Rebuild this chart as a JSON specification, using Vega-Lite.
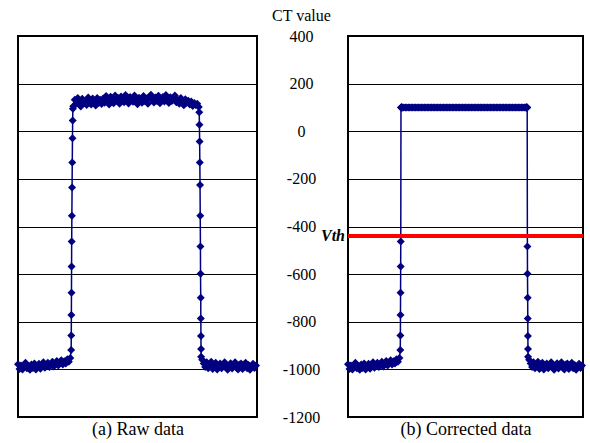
{
  "$schema": "https://vega.github.io/schema/vega-lite/v6.json",
  "padding": {"left": 13, "top": 6, "right": 4, "bottom": 4},
  "bounds": "flush",
  "spacing": 91,
  "background": "white",
  "datasets": {
    "d": [
      {"x":0,"raw":-978,"cor":-978},{"x":1.5,"raw":-998,"cor":-998},{"x":3,"raw":-984,"cor":-984},{"x":4.5,"raw":-1000,"cor":-1000},
      {"x":6,"raw":-990,"cor":-990},{"x":7.5,"raw":-972,"cor":-972},{"x":9,"raw":-995,"cor":-995},{"x":10.5,"raw":-986,"cor":-986},
      {"x":12,"raw":-1002,"cor":-1002},{"x":13.5,"raw":-980,"cor":-980},{"x":15,"raw":-994,"cor":-994},{"x":16.5,"raw":-975,"cor":-975},
      {"x":18,"raw":-1000,"cor":-1000},{"x":19.5,"raw":-988,"cor":-988},{"x":21,"raw":-976,"cor":-976},{"x":22.5,"raw":-997,"cor":-997},
      {"x":24,"raw":-983,"cor":-983},{"x":25.5,"raw":-970,"cor":-970},{"x":27,"raw":-993,"cor":-993},{"x":28.5,"raw":-985,"cor":-985},
      {"x":30,"raw":-972,"cor":-972},{"x":31.5,"raw":-990,"cor":-990},{"x":33,"raw":-978,"cor":-978},{"x":34.5,"raw":-968,"cor":-968},
      {"x":36,"raw":-988,"cor":-988},{"x":37.5,"raw":-975,"cor":-975},{"x":39,"raw":-965,"cor":-965},{"x":40.5,"raw":-984,"cor":-984},
      {"x":42,"raw":-970,"cor":-970},{"x":43.5,"raw":-962,"cor":-962},{"x":45,"raw":-980,"cor":-980},{"x":46.5,"raw":-966,"cor":-966},
      {"x":48,"raw":-975,"cor":-975},{"x":49.5,"raw":-958,"cor":-958},{"x":51,"raw":-968,"cor":-968},{"x":52.5,"raw":-952,"cor":-952},
      {"x":53.4,"raw":-919,"cor":-919},{"x":53.5,"raw":-858,"cor":-858},{"x":53.6,"raw":-772,"cor":-772},{"x":53.7,"raw":-678,"cor":-678},
      {"x":53.8,"raw":-568,"cor":-568},{"x":53.9,"raw":-463,"cor":-463},{"x":54.1,"raw":-355,"cor":100},{"x":54.3,"raw":-236,"cor":100},
      {"x":54.5,"raw":-131,"cor":100},{"x":54.7,"raw":-29,"cor":100},{"x":54.9,"raw":45,"cor":100},{"x":55.1,"raw":94,"cor":100},
      {"x":55.5,"raw":105,"cor":100},{"x":57,"raw":132,"cor":100},{"x":58.5,"raw":115,"cor":100},{"x":60,"raw":140,"cor":100},
      {"x":61.5,"raw":120,"cor":100},{"x":63,"raw":104,"cor":100},{"x":64.5,"raw":136,"cor":100},{"x":66,"raw":118,"cor":100},
      {"x":67.5,"raw":128,"cor":100},{"x":69,"raw":110,"cor":100},{"x":70.5,"raw":142,"cor":100},{"x":72,"raw":122,"cor":100},
      {"x":73.5,"raw":112,"cor":100},{"x":75,"raw":138,"cor":100},{"x":76.5,"raw":125,"cor":100},{"x":78,"raw":108,"cor":100},
      {"x":79.5,"raw":140,"cor":100},{"x":81,"raw":119,"cor":100},{"x":82.5,"raw":132,"cor":100},{"x":84,"raw":114,"cor":100},
      {"x":85.5,"raw":138,"cor":100},{"x":87,"raw":120,"cor":100},{"x":88.5,"raw":148,"cor":100},{"x":90,"raw":126,"cor":100},
      {"x":91.5,"raw":112,"cor":100},{"x":93,"raw":145,"cor":100},{"x":94.5,"raw":132,"cor":100},{"x":96,"raw":118,"cor":100},
      {"x":97.5,"raw":150,"cor":100},{"x":99,"raw":128,"cor":100},{"x":100.5,"raw":140,"cor":100},{"x":102,"raw":115,"cor":100},
      {"x":103.5,"raw":146,"cor":100},{"x":105,"raw":135,"cor":100},{"x":106.5,"raw":122,"cor":100},{"x":108,"raw":152,"cor":100},
      {"x":109.5,"raw":130,"cor":100},{"x":111,"raw":117,"cor":100},{"x":112.5,"raw":144,"cor":100},{"x":114,"raw":137,"cor":100},
      {"x":115.5,"raw":124,"cor":100},{"x":117,"raw":150,"cor":100},{"x":118.5,"raw":128,"cor":100},{"x":120,"raw":113,"cor":100},
      {"x":121.5,"raw":141,"cor":100},{"x":123,"raw":133,"cor":100},{"x":124.5,"raw":120,"cor":100},{"x":126,"raw":148,"cor":100},
      {"x":127.5,"raw":126,"cor":100},{"x":129,"raw":138,"cor":100},{"x":130.5,"raw":116,"cor":100},{"x":132,"raw":145,"cor":100},
      {"x":133.5,"raw":153,"cor":100},{"x":135,"raw":130,"cor":100},{"x":136.5,"raw":121,"cor":100},{"x":138,"raw":142,"cor":100},
      {"x":139.5,"raw":127,"cor":100},{"x":141,"raw":149,"cor":100},{"x":142.5,"raw":118,"cor":100},{"x":144,"raw":136,"cor":100},
      {"x":145.5,"raw":144,"cor":100},{"x":147,"raw":125,"cor":100},{"x":148.5,"raw":152,"cor":100},{"x":150,"raw":131,"cor":100},
      {"x":151.5,"raw":119,"cor":100},{"x":153,"raw":143,"cor":100},{"x":154.5,"raw":127,"cor":100},{"x":156,"raw":136,"cor":100},
      {"x":157.5,"raw":150,"cor":100},{"x":159,"raw":122,"cor":100},{"x":160.5,"raw":131,"cor":100},{"x":162,"raw":115,"cor":100},
      {"x":163.5,"raw":140,"cor":100},{"x":165,"raw":124,"cor":100},{"x":166.5,"raw":109,"cor":100},{"x":168,"raw":134,"cor":100},
      {"x":169.5,"raw":120,"cor":100},{"x":171,"raw":128,"cor":100},{"x":172.5,"raw":112,"cor":100},{"x":174,"raw":125,"cor":100},
      {"x":175.5,"raw":106,"cor":100},{"x":177,"raw":119,"cor":100},{"x":178.5,"raw":110,"cor":100},{"x":180,"raw":116,"cor":100},
      {"x":181.5,"raw":102,"cor":100},
      {"x":182,"raw":80,"cor":100},{"x":182.2,"raw":27,"cor":100},{"x":182.4,"raw":-43,"cor":100},{"x":182.6,"raw":-131,"cor":100},
      {"x":182.8,"raw":-226,"cor":100},{"x":183,"raw":-355,"cor":100},{"x":183.2,"raw":-484,"cor":-484},{"x":183.3,"raw":-598,"cor":-598},
      {"x":183.5,"raw":-699,"cor":-699},{"x":183.6,"raw":-786,"cor":-786},{"x":183.7,"raw":-860,"cor":-860},{"x":183.8,"raw":-914,"cor":-914},
      {"x":183.9,"raw":-947,"cor":-947},
      {"x":185,"raw":-960,"cor":-960},{"x":186.5,"raw":-975,"cor":-975},{"x":188,"raw":-990,"cor":-990},{"x":189.5,"raw":-970,"cor":-970},
      {"x":191,"raw":-995,"cor":-995},{"x":192.5,"raw":-982,"cor":-982},{"x":194,"raw":-968,"cor":-968},{"x":195.5,"raw":-998,"cor":-998},
      {"x":197,"raw":-985,"cor":-985},{"x":198.5,"raw":-972,"cor":-972},{"x":200,"raw":-1000,"cor":-1000},{"x":201.5,"raw":-988,"cor":-988},
      {"x":203,"raw":-975,"cor":-975},{"x":204.5,"raw":-995,"cor":-995},{"x":206,"raw":-980,"cor":-980},{"x":207.5,"raw":-970,"cor":-970},
      {"x":209,"raw":-992,"cor":-992},{"x":210.5,"raw":-1002,"cor":-1002},{"x":212,"raw":-984,"cor":-984},{"x":213.5,"raw":-974,"cor":-974},
      {"x":215,"raw":-996,"cor":-996},{"x":216.5,"raw":-987,"cor":-987},{"x":218,"raw":-970,"cor":-970},{"x":219.5,"raw":-993,"cor":-993},
      {"x":221,"raw":-1000,"cor":-1000},{"x":222.5,"raw":-980,"cor":-980},{"x":224,"raw":-975,"cor":-975},{"x":225.5,"raw":-998,"cor":-998},
      {"x":227,"raw":-986,"cor":-986},{"x":228.5,"raw":-972,"cor":-972},{"x":230,"raw":-995,"cor":-995},{"x":231.5,"raw":-982,"cor":-982},
      {"x":233,"raw":-1002,"cor":-1002},{"x":234.5,"raw":-988,"cor":-988},{"x":236,"raw":-976,"cor":-976},{"x":237.5,"raw":-994,"cor":-994},
      {"x":239,"raw":-984,"cor":-984}
    ],
    "vth": [{"v": -440, "label": "Vth"}]
  },
  "config": {
    "view": {"stroke": "#000000", "strokeWidth": 2},
    "axis": {
      "gridColor": "#000000", "gridWidth": 1, "gridOpacity": 1,
      "domain": false, "ticks": false, "tickSize": 0,
      "labelFont": "Liberation Serif, Times New Roman, serif", "titleFont": "Liberation Serif, Times New Roman, serif",
      "labelColor": "#000000", "titleColor": "#000000", "titleFontWeight": "normal"
    }
  },
  "hconcat": [
    {
      "width": 239,
      "height": 381,
      "data": {"name": "d"},
      "mark": {"type": "line", "color": "#000080", "strokeWidth": 1.5,
               "point": {"shape": "diamond", "size": 64, "filled": true, "color": "#000080"}},
      "encoding": {
        "x": {"field": "x", "type": "quantitative",
              "scale": {"domain": [0, 240], "nice": false, "zero": false},
              "axis": {"title": "(a) Raw data", "labels": false, "grid": false, "titleFontSize": 18, "titlePadding": 3}},
        "y": {"field": "raw", "type": "quantitative",
              "scale": {"domain": [-1200, 400], "nice": false},
              "axis": {"title": null, "labels": false, "grid": true,
                       "values": [400, 200, 0, -200, -400, -600, -800, -1000, -1200]}}
      }
    },
    {
      "width": 235,
      "height": 381,
      "layer": [
        {
          "data": {"name": "d"},
          "mark": {"type": "line", "color": "#000080", "strokeWidth": 1.5,
                   "point": {"shape": "diamond", "size": 64, "filled": true, "color": "#000080"}},
          "encoding": {
            "x": {"field": "x", "type": "quantitative",
                  "scale": {"domain": [0, 240], "nice": false, "zero": false},
                  "axis": {"title": "(b) Corrected data", "labels": false, "grid": false, "titleFontSize": 18, "titlePadding": 3}},
            "y": {"field": "cor", "type": "quantitative",
                  "scale": {"domain": [-1200, 400], "nice": false},
                  "axis": {"title": "CT value", "grid": true,
                           "values": [400, 200, 0, -200, -400, -600, -800, -1000, -1200],
                           "labelExpr": "datum.value < 0 ? '-' + abs(datum.value) : '' + datum.value",
                           "labelAlign": "center", "labelBaseline": "middle", "labelPadding": 47,
                           "labelFontSize": 16, "labelFlush": false, "labelOverlap": false,
                           "titleAngle": 0, "titleX": -47, "titleY": -16, "titleAlign": "center",
                           "titleBaseline": "alphabetic", "titleFontSize": 16}}
          }
        },
        {
          "data": {"name": "vth"},
          "mark": {"type": "rule", "color": "#ff0000", "strokeWidth": 4},
          "encoding": {"y": {"field": "v", "type": "quantitative",
                  "axis": {"title": "CT value", "grid": true,
                           "values": [400, 200, 0, -200, -400, -600, -800, -1000, -1200],
                           "labelExpr": "datum.value < 0 ? '-' + abs(datum.value) : '' + datum.value",
                           "labelAlign": "center", "labelBaseline": "middle", "labelPadding": 47,
                           "labelFontSize": 16, "labelFlush": false, "labelOverlap": false,
                           "titleAngle": 0, "titleX": -47, "titleY": -16, "titleAlign": "center",
                           "titleBaseline": "alphabetic", "titleFontSize": 16}}}
        },
        {
          "data": {"name": "vth"},
          "mark": {"type": "text", "align": "right", "baseline": "middle", "dx": -3,
                   "font": "Liberation Serif, Times New Roman, serif", "fontSize": 16, "fontWeight": "bold", "fontStyle": "italic", "color": "#000000"},
          "encoding": {
            "x": {"datum": 0, "type": "quantitative",
                  "axis": {"title": "(b) Corrected data", "labels": false, "grid": false, "titleFontSize": 18, "titlePadding": 3}},
            "y": {"field": "v", "type": "quantitative",
                  "axis": {"title": "CT value", "grid": true,
                           "values": [400, 200, 0, -200, -400, -600, -800, -1000, -1200],
                           "labelExpr": "datum.value < 0 ? '-' + abs(datum.value) : '' + datum.value",
                           "labelAlign": "center", "labelBaseline": "middle", "labelPadding": 47,
                           "labelFontSize": 16, "labelFlush": false, "labelOverlap": false,
                           "titleAngle": 0, "titleX": -47, "titleY": -16, "titleAlign": "center",
                           "titleBaseline": "alphabetic", "titleFontSize": 16}},
            "text": {"field": "label"}
          }
        }
      ]
    }
  ]
}
